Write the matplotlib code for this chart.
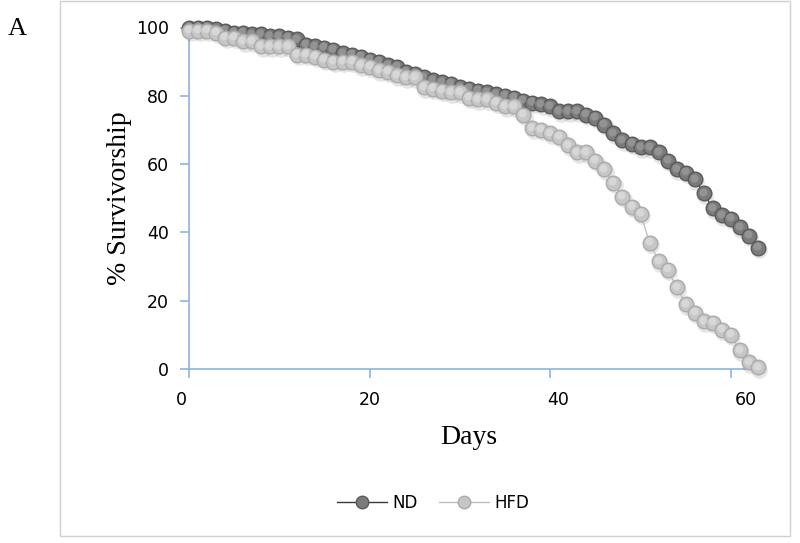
import matplotlib
matplotlib.use("Agg")
import matplotlib.pyplot as plt
import matplotlib.transforms as mtransforms
from matplotlib.lines import Line2D
from matplotlib.patches import Rectangle

days = list(range(0, 64))
nd = [100, 100, 100, 99.5, 99, 98.5, 98.5, 98, 98, 97.5,
      97.5, 97, 96.5, 95, 94.5, 94, 93.5, 92.5, 92, 91.5,
      90.5, 90, 89, 88.5, 87, 86.5, 85.5, 84.5, 84, 83.5,
      82.5, 82, 81.5, 81, 80.5, 80, 79.5, 78.5, 78, 77.5,
      77, 75.5, 75.5, 75.5, 74.5, 73.5, 71.5, 69, 67, 66,
      65, 65, 63.5, 61, 58.5, 57.5, 55.5, 51.5, 47, 45,
      44, 41.5, 39, 35.5]
hfd = [99, 99, 99, 98.5, 97, 97, 96, 96, 94.5, 94.5,
       94.5, 94.5, 92, 92, 91.5, 90.5, 90, 90, 90, 89,
       88.5, 87.5, 87, 86, 85.5, 85.5, 82.5, 82, 81.5, 81,
       81, 79.5, 79, 79, 78, 77, 77, 74.5, 70.5, 70,
       69, 68, 65.5, 63.5, 63.5, 61, 58.5, 54.5, 50.5, 47.5,
       45.5, 37, 31.5, 29, 24, 19, 16.5, 14, 13.5, 11.5,
       10, 5.5, 2, 0.5]
series_names = ["ND", "HFD"]
x_ticks = [0, 20, 40, 60]
y_ticks = [0, 20, 40, 60, 80, 100]

W, H = 800, 543
fig = plt.figure(figsize=(W / 100, H / 100), dpi=100)
fig.patch.set_facecolor("white")

# outer chart border
fig.patches.append(Rectangle((60 / W, 1 - 536 / H), (790 - 60) / W, (536 - 1) / H,
                             transform=fig.transFigure, fill=False,
                             edgecolor="#d0d0d0", linewidth=1.0))

ax = fig.add_axes([189 / W, 1 - 369 / H, (748 - 189) / W, (369 - 27.5) / H])
ax.set_xlim(0, 61.9)
ax.set_ylim(0, 100)

axis_col = "#8db3e2"
for s in ["top", "right"]:
    ax.spines[s].set_visible(False)
for s in ["left", "bottom"]:
    ax.spines[s].set_color(axis_col)
    ax.spines[s].set_linewidth(1.2)
ax.tick_params(axis="both", colors=axis_col, direction="out", length=6.5, width=1.2,
               labelcolor="#000000", labelsize=12.5)
ax.set_xticks(x_ticks)
ax.set_yticks(y_ticks)
for lab in ax.get_yticklabels():
    lab.set_fontfamily("DejaVu Sans")
ax.tick_params(axis="y", pad=8)
ax.tick_params(axis="x", labelbottom=False)

# x tick labels: slightly spread relative to the tick marks, as in the reference
xt_base = ax.get_xaxis_transform()
for v in x_ticks:
    dx = (v - 20) * 0.38 / 100.0
    tr = xt_base + mtransforms.ScaledTranslation(dx, -22 / 100.0, fig.dpi_scale_trans)
    ax.text(v, 0, str(v), transform=tr, ha="center", va="top",
            fontfamily="DejaVu Sans", fontsize=12.5, color="#000000", clip_on=False)

ax.set_xlabel("Days", fontfamily="Liberation Serif", fontsize=20, labelpad=34)
ax.set_ylabel("% Survivorship", fontfamily="Liberation Serif", fontsize=20, labelpad=3)

ms = 10.5

def draw_series(y, face, edge, hl, line_col, z):
    shadow = mtransforms.offset_copy(ax.transData, fig=fig, x=1.5, y=-2.5, units="dots")
    ax.plot(days, y, linestyle="none", marker="o", ms=ms + 1.5, mfc="#000000", mec="none",
            alpha=0.10, transform=shadow, zorder=z, clip_on=False)
    ax.plot(days, y, color=line_col, lw=0.9, zorder=z + 0.1, clip_on=False)
    ax.plot(days, y, linestyle="none", marker="o", ms=ms, mfc=face, mec=edge, mew=1.0,
            zorder=z + 0.2, clip_on=False)
    hlt = mtransforms.offset_copy(ax.transData, fig=fig, x=-1.0, y=1.5, units="dots")
    ax.plot(days, y, linestyle="none", marker="o", ms=ms * 0.55, mfc=hl, mec="none",
            alpha=0.55, transform=hlt, zorder=z + 0.3, clip_on=False)

draw_series(nd, "#7b7b7b", "#5a5a5a", "#a8a8a8", "#3a3a3a", 3)
draw_series(hfd, "#c6c6c6", "#ababab", "#e6e6e6", "#bdbdbd", 4)

fig.text(8 / W, 1 - 29 / H, "A", fontfamily="Liberation Serif", fontsize=19,
         va="center", ha="left")

handles = [Line2D([], [], color="#3a3a3a", lw=1.0, marker="o", ms=9, mfc="#7b7b7b", mec="#5a5a5a"),
           Line2D([], [], color="#bdbdbd", lw=1.0, marker="o", ms=9, mfc="#c6c6c6", mec="#ababab")]
fig.legend(handles, series_names, loc="center", bbox_to_anchor=(433 / W, 1 - 503 / H),
           ncol=2, frameon=False, prop={"family": "DejaVu Sans", "size": 12},
           handlelength=3.0, handletextpad=0.3, columnspacing=1.3)

fig.savefig("out.png", dpi=100)
